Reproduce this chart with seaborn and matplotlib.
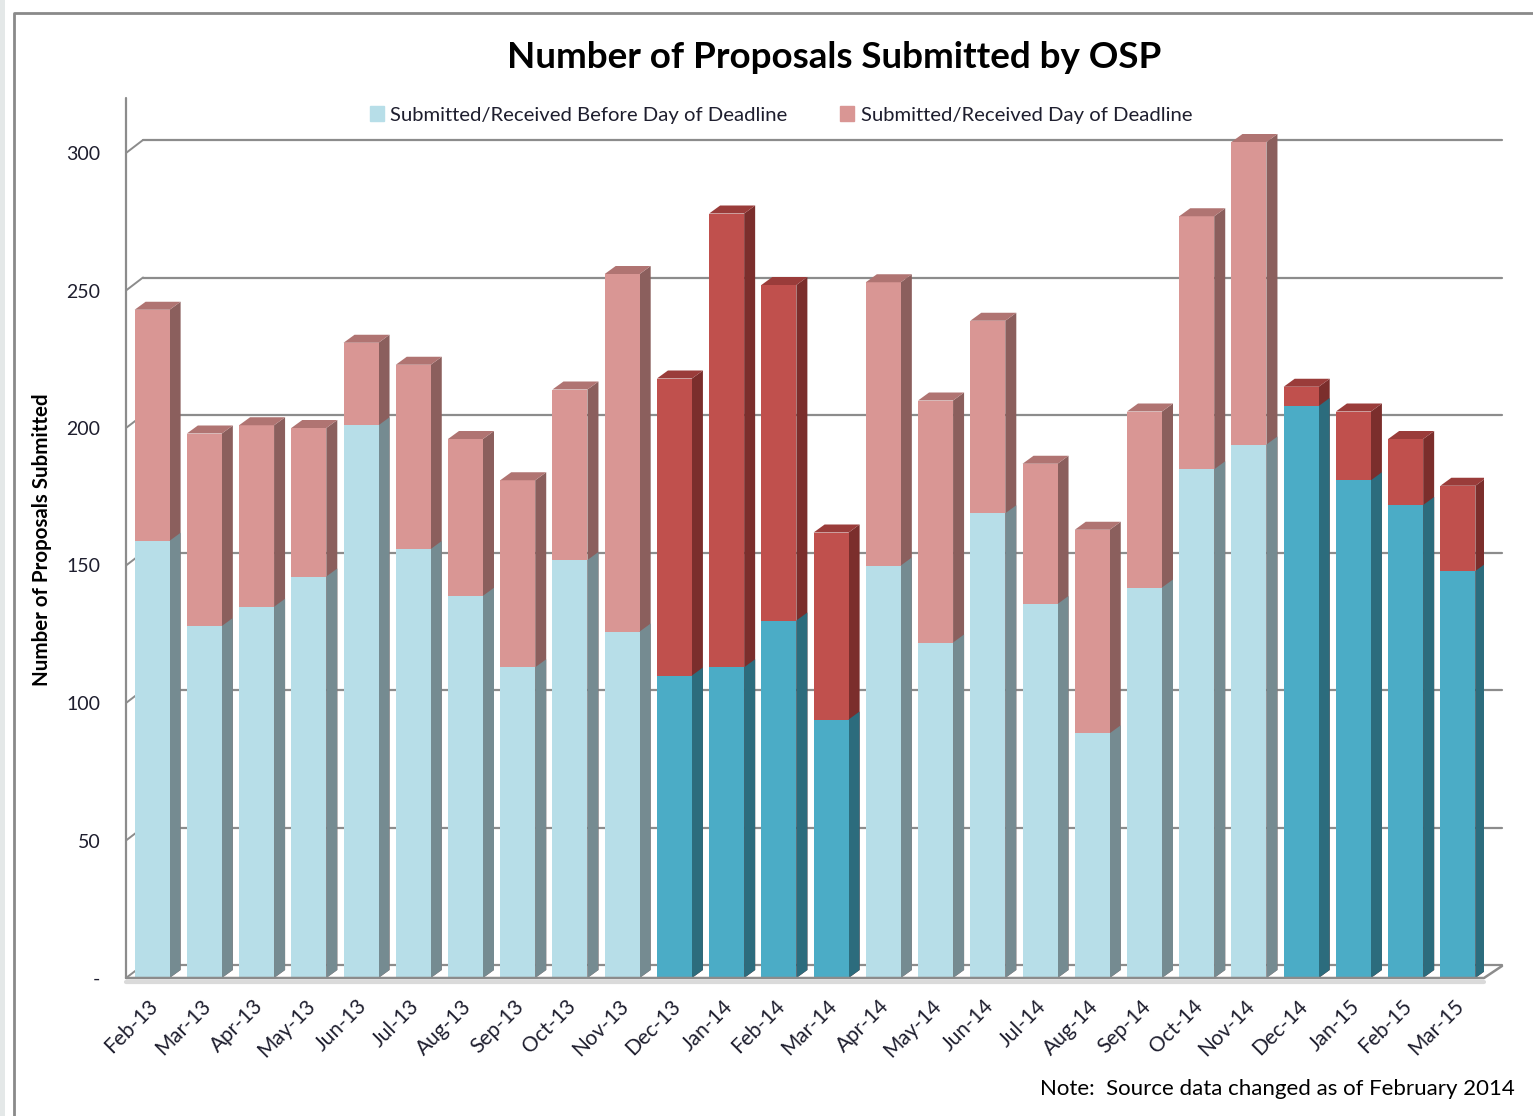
import matplotlib
matplotlib.use("Agg")
import matplotlib.pyplot as plt
import matplotlib.transforms as mtransforms
from matplotlib.patches import Polygon, Patch, Rectangle
from matplotlib.lines import Line2D
import pandas as pd
import seaborn as sns

# data
months = ["Feb-13", "Mar-13", "Apr-13", "May-13", "Jun-13", "Jul-13", "Aug-13",
          "Sep-13", "Oct-13", "Nov-13", "Dec-13", "Jan-14", "Feb-14", "Mar-14",
          "Apr-14", "May-14", "Jun-14", "Jul-14", "Aug-14", "Sep-14", "Oct-14",
          "Nov-14", "Dec-14", "Jan-15", "Feb-15", "Mar-15"]
before = [159, 128, 135, 146, 201, 156, 139, 113, 152, 126, 110, 113, 130, 94,
          150, 122, 169, 136, 89, 142, 185, 194, 208, 181, 172, 148]
day_of = [84, 70, 66, 54, 30, 67, 57, 68, 62, 130, 108, 165, 122, 68,
          103, 88, 70, 51, 74, 64, 92, 110, 7, 25, 24, 31]
# months drawn in the darker colours
dark_months = ["Dec-13", "Jan-14", "Feb-14", "Mar-14",
               "Dec-14", "Jan-15", "Feb-15", "Mar-15"]
y_ticks = [0, 50, 100, 150, 200, 250, 300]
y_tick_labels = ["-", "50", "100", "150", "200", "250", "300"]

df = pd.DataFrame({"month": months, "before": before, "day_of": day_of})
df["total"] = df["before"] + df["day_of"]
df["dark"] = df["month"].isin(dark_months)

# colours: front, side, top
BLUE_L = ("#B7DEE8", "#758B91", "#9CBFC8")
BLUE_D = ("#4BACC6", "#2C6C7D", "#3A8CA2")
RED_L = ("#D99694", "#8B5F5D", "#B07472")
RED_D = ("#C0504D", "#7B2E2C", "#9A3C3A")
GRID = "#8C8C8C"
TXT = "#1E1E2E"

sns.set_style("white")
plt.rcParams["font.family"] = ["Lato", "DejaVu Sans"]

W, H = 1533, 1116
fig = plt.figure(figsize=(W / 100, H / 100), dpi=100)

# axes placed in pixels: front y axis at x=126, floor front at y=978
x_left, x_right = 126, 1484
y_bot, y_top = 978, 98
ax = fig.add_axes([x_left / W, 1 - y_bot / H, (x_right - x_left) / W, (y_bot - y_top) / H])
ax.set_ylim(0, 320)

blue_pal = {m: (BLUE_D if d else BLUE_L)[0] for m, d in zip(df["month"], df["dark"])}
red_pal = {m: (RED_D if d else RED_L)[0] for m, d in zip(df["month"], df["dark"])}

sns.barplot(data=df, x="month", y="total", hue="month", palette=red_pal, width=0.67,
            saturation=1, legend=False, ax=ax, zorder=3, linewidth=0)
n_red = len(ax.patches)
sns.barplot(data=df, x="month", y="before", hue="month", palette=blue_pal, width=0.67,
            saturation=1, legend=False, ax=ax, zorder=5, linewidth=0)
ax.set_xlim(-0.5, len(months) - 0.5)
ax.set_ylim(0, 320)

red_bars = sorted(ax.patches[:n_red], key=lambda p: p.get_x())
blue_bars = sorted(ax.patches[n_red:], key=lambda p: p.get_x())


def px(dx, dy):
    inv = ax.transData.inverted()
    a = inv.transform((0, 0))
    b = inv.transform((dx, dy))
    return b[0] - a[0], b[1] - a[1]


bdx, bdy = px(11, 8)     # bar depth
gdx, gdy = px(17, 13)    # back wall offset
fdx, fdy = px(18, 12)    # floor depth at the right end

# back wall gridlines and the little wall diagonals
x0, x1 = -0.5, len(months) - 0.5
for v in y_ticks:
    ax.add_line(Line2D([x0 + gdx, x1 + fdx], [v + gdy, v + gdy], color=GRID, lw=1.6,
                       zorder=1, clip_on=False))
    ax.add_line(Line2D([x0, x0 + gdx], [v, v + gdy], color=GRID, lw=1.4,
                       zorder=1, clip_on=False))
# front y axis and floor edge
ax.add_line(Line2D([x0, x0], [0, 320], color=GRID, lw=1.6, zorder=6, clip_on=False))
ax.add_line(Line2D([x0, x1, x1 + fdx], [0, 0, fdy], color=GRID, lw=1.8, zorder=6,
                   clip_on=False))
ax.add_line(Line2D([x0, x1], [px(0, -4)[1]] * 2, color="#DADADA", lw=3, zorder=0,
                   clip_on=False))

for i, (rb, bb) in enumerate(zip(red_bars, blue_bars)):
    rc = RED_D if df["dark"][i] else RED_L
    bc = BLUE_D if df["dark"][i] else BLUE_L
    xl = rb.get_x()
    xr = xl + rb.get_width()
    tot = rb.get_height()
    low = bb.get_height()
    ax.add_patch(Polygon([(xr, 0), (xr + bdx, bdy), (xr + bdx, tot + bdy), (xr, tot)],
                         closed=True, fc=rc[1], ec="none", zorder=2.9))
    ax.add_patch(Polygon([(xl, tot), (xl + bdx, tot + bdy), (xr + bdx, tot + bdy), (xr, tot)],
                         closed=True, fc=rc[2], ec="none", zorder=3.1))
    ax.add_patch(Polygon([(xr, 0), (xr + bdx, bdy), (xr + bdx, low + bdy), (xr, low)],
                         closed=True, fc=bc[1], ec="none", zorder=4.9))

for s in ax.spines.values():
    s.set_visible(False)
ax.set_facecolor("none")
ax.set_xlabel("")
ax.set_ylabel("")
ax.set_yticks(y_ticks)
ax.set_yticklabels(y_tick_labels, fontsize=14, color=TXT)
ax.tick_params(axis="y", length=0, pad=18.5)
ax.tick_params(axis="x", length=0, pad=18)
ax.set_xticks(range(len(months)))
ax.set_xticklabels(months, rotation=45, ha="right", va="center", rotation_mode="anchor",
                   fontsize=15, color=TXT)
shift = mtransforms.ScaledTranslation(0.03, 0, fig.dpi_scale_trans)
for lab in ax.get_xticklabels():
    lab.set_transform(lab.get_transform() + shift)

fig.text(834 / W, 1 - 58 / H, "Number of Proposals Submitted by OSP", ha="center",
         va="center", fontsize=26.5, fontweight="bold", color="black")
fig.text(42 / W, 1 - 540 / H, "Number of Proposals Submitted", rotation=90, ha="center",
         va="center", fontsize=14.8, fontweight="bold", color="black")
fig.text(1515 / W, 1 - 1089 / H, "Note:  Source data changed as of February 2014",
         ha="right", va="center", fontsize=16, color="black")

handles = [Patch(color=BLUE_L[0]), Patch(color=RED_L[0])]
fig.legend(handles, ["Submitted/Received Before Day of Deadline",
                     "Submitted/Received Day of Deadline"],
           loc="center", bbox_to_anchor=(781 / W, 1 - 115 / H), ncol=2, frameon=False,
           fontsize=14.6, handlelength=0.7, handleheight=0.7, handletextpad=0.3,
           columnspacing=2.6, labelcolor=TXT)

# outer chart frame
fig.add_artist(Rectangle((0, 0), 5 / W, 1, transform=fig.transFigure, fc="#E4E8E8",
                         ec="none"))
fig.add_artist(Line2D([14 / W, 14 / W, 1], [0, 1 - 13 / H, 1 - 13 / H],
                      transform=fig.transFigure, color="#8A8A8A", lw=2))

fig.savefig("out.png", dpi=100)
